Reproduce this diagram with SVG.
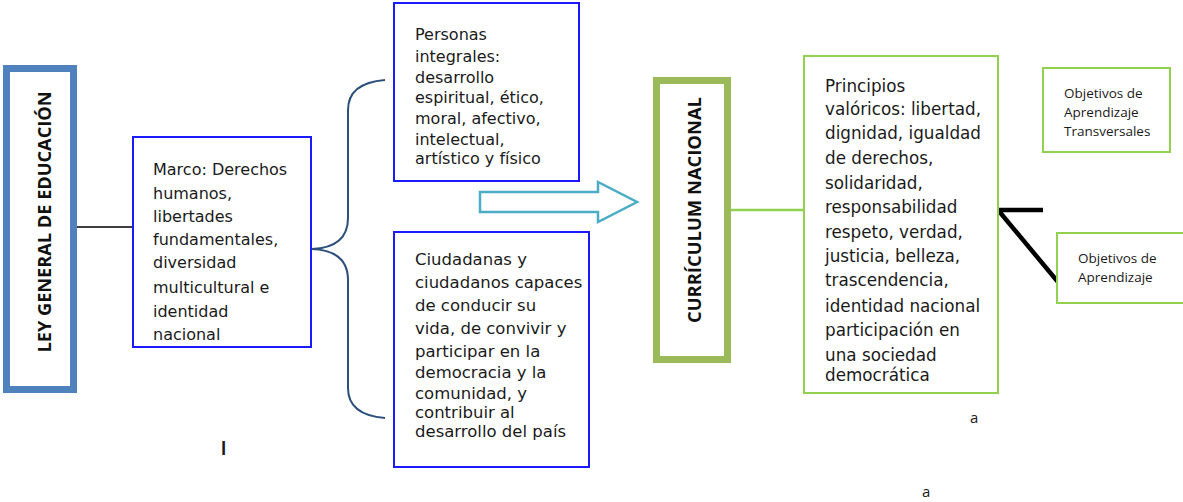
<svg xmlns="http://www.w3.org/2000/svg" width="1183" height="502" viewBox="0 0 1183 502">
<style>
.body{font-family:"DejaVu Sans","Liberation Sans",sans-serif;font-size:16px;fill:#1a1a1a}
.title{font-family:"Open Sans","Liberation Sans",sans-serif;font-weight:bold;font-size:17px;fill:#111}
.small{font-family:"Open Sans","Liberation Sans",sans-serif;font-size:13.5px;fill:#1a1a1a}
.blue{fill:#fff;stroke:#1a1aff;stroke-width:2}
.green{fill:#fff;stroke:#92d050;stroke-width:2}
</style>
<rect width="1183" height="502" fill="#fff"/>
<g id="connectors">
<line x1="77" y1="227" x2="133" y2="227" stroke="#000" stroke-width="1.5"/>
<path d="M385,80 C360,82 348,92 348,110 L348,218 C348,238 335,248 312,249 C335,250 348,260 348,280 L348,388 C348,406 360,416 385,418" fill="none" stroke="#2c4f7c" stroke-width="2"/>
<path d="M480,192 L598,192 L598,182 L637,202 L598,222 L598,212 L480,212 Z" fill="#fff" stroke="#4bacc6" stroke-width="2.5"/>
<line x1="731" y1="210" x2="805" y2="210" stroke="#92d050" stroke-width="2.5"/>
<path d="M1043,210 L998,210 L1058,282" fill="none" stroke="#000" stroke-width="4.5"/>
</g>
<g id="ley">
<rect x="6.5" y="68.5" width="67" height="321" fill="#fff" stroke="#4f81bd" stroke-width="7"/>
<text class="title" transform="translate(51,222) rotate(-90)" text-anchor="middle" textLength="261" lengthAdjust="spacingAndGlyphs">LEY GENERAL DE EDUCACIÓN</text>
</g>
<g id="marco">
<rect class="blue" x="133" y="137" width="178" height="210"/>
<text class="body" x="153"><tspan x="153" y="175">Marco: Derechos</tspan><tspan x="153" y="199">humanos,</tspan><tspan x="153" y="222">libertades</tspan><tspan x="153" y="245">fundamentales,</tspan><tspan x="153" y="268">diversidad</tspan><tspan x="153" y="293">multicultural e</tspan><tspan x="153" y="317">identidad</tspan><tspan x="153" y="340">nacional</tspan></text>
</g>
<g id="personas">
<rect class="blue" x="394" y="3" width="185" height="178"/>
<text class="body"><tspan x="415" y="40">Personas</tspan><tspan x="415" y="62">integrales:</tspan><tspan x="415" y="83">desarrollo</tspan><tspan x="415" y="103">espiritual, ético,</tspan><tspan x="415" y="124">moral, afectivo,</tspan><tspan x="415" y="145">intelectual,</tspan><tspan x="415" y="164">artístico y físico</tspan></text>
</g>
<g id="ciudadanas">
<rect class="blue" x="394" y="232" width="195" height="235"/>
<text class="body" style="font-size:16.5px"><tspan x="415" y="265">Ciudadanas y</tspan><tspan x="415" y="288">ciudadanos capaces</tspan><tspan x="415" y="311">de conducir su</tspan><tspan x="415" y="334">vida, de convivir y</tspan><tspan x="415" y="357">participar en la</tspan><tspan x="415" y="378">democracia y la</tspan><tspan x="415" y="399">comunidad, y</tspan><tspan x="415" y="418">contribuir al</tspan><tspan x="415" y="437">desarrollo del país</tspan></text>
</g>
<g id="curriculum">
<rect x="656.5" y="80.5" width="71" height="279" fill="#fff" stroke="#9bbb59" stroke-width="7"/>
<text class="title" transform="translate(701,210) rotate(-90)" text-anchor="middle" textLength="226" lengthAdjust="spacingAndGlyphs">CURRÍCULUM NACIONAL</text>
</g>
<g id="principios">
<rect class="green" x="804" y="56" width="194" height="337"/>
<text class="body" style="font-size:16.8px"><tspan x="825" y="92">Principios</tspan><tspan x="825" y="115">valóricos: libertad,</tspan><tspan x="825" y="139">dignidad, igualdad</tspan><tspan x="825" y="164">de derechos,</tspan><tspan x="825" y="189">solidaridad,</tspan><tspan x="825" y="213">responsabilidad</tspan><tspan x="825" y="238">respeto, verdad,</tspan><tspan x="825" y="262">justicia, belleza,</tspan><tspan x="825" y="286">trascendencia,</tspan><tspan x="825" y="312">identidad nacional</tspan><tspan x="825" y="336">participación en</tspan><tspan x="825" y="361">una sociedad</tspan><tspan x="825" y="381">democrática</tspan></text>
</g>
<g id="oat">
<rect class="green" x="1043" y="68" width="127" height="84"/>
<text class="small"><tspan x="1064" y="98">Objetivos de</tspan><tspan x="1064" y="117">Aprendizaje</tspan><tspan x="1064" y="136">Transversales</tspan></text>
</g>
<g id="oa">
<rect class="green" x="1057" y="233" width="140" height="70"/>
<text class="small"><tspan x="1078" y="263">Objetivos de</tspan><tspan x="1078" y="282">Aprendizaje</tspan></text>
</g>
<g id="stray">
<text class="small" x="970" y="423" style="font-size:15px">a</text>
<text class="small" x="922" y="497" style="font-size:15px">a</text>
<text class="small" x="221" y="455" style="font-size:17px;font-weight:bold">l</text>
</g>
</svg>
